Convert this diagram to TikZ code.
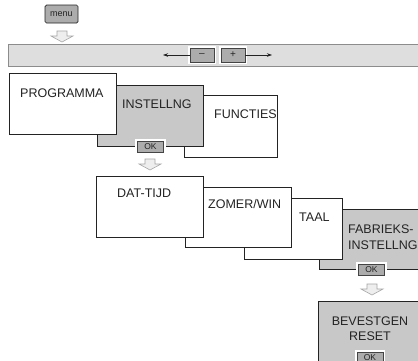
\documentclass[tikz,border=0pt]{standalone}
\usepackage{fontspec}
\setmainfont{Liberation Sans}
\usetikzlibrary{arrows.meta}
\definecolor{boxgray}{RGB}{200,200,200}
\definecolor{bargray}{RGB}{222,222,222}
\definecolor{btngray}{RGB}{172,172,172}
\definecolor{bargrayline}{RGB}{140,140,140}
\definecolor{edgec}{RGB}{35,35,35}
\definecolor{arrfill}{RGB}{238,238,238}
\definecolor{arrline}{RGB}{165,165,165}
\newcommand\DownArr[2]{%
  \draw[hollowarr] (#1-5,#2) -- (#1+5,#2) -- (#1+5,#2+5) -- (#1+11,#2+5) -- (#1,#2+11) -- (#1-11,#2+5) -- (#1-5,#2+5) -- cycle;}
\begin{document}
\begin{tikzpicture}[x=1pt,y=-1pt,
  card/.style={draw=edgec, line width=0.8pt, fill=white, anchor=north west, inner sep=0pt},
  graycard/.style={card, fill=boxgray},
  lbl/.style={anchor=base west, inner sep=0pt, text=edgec, font=\fontsize{12.5}{14}\selectfont},
  okbtn/.style={preaction={draw=white, line width=4.5pt}, draw=edgec!85, fill=btngray, line width=0.6pt,
    minimum width=26pt, minimum height=11pt, inner sep=0pt, text=edgec, font=\fontsize{8.5}{9}\selectfont},
  pmbtn/.style={okbtn, minimum width=24pt, minimum height=14pt, font=\fontsize{10}{10}\selectfont},
  hollowarr/.style={draw=arrline, fill=arrfill, line width=0.6pt, line join=miter},
  bararr/.style={draw=edgec, line width=0.6pt, -{Stealth[length=5pt,width=3.5pt]}}
]
\useasboundingbox (0,0) rectangle (418,360);
\clip (0,0) rectangle (418,360);
\fill[white] (0,0) rectangle (418,360);

% menu button
\node[draw=edgec, fill=btngray, rounded corners=1.5pt, line width=0.7pt, minimum width=33pt, minimum height=18pt,
  inner sep=0pt, text=edgec, font=\fontsize{9}{9}\selectfont] (menu) at (61.5,14) {menu};
\DownArr{62}{31}

% bar
\node[draw=bargrayline, fill=bargray, line width=0.8pt, anchor=north west, minimum width=430pt, minimum height=22pt, inner sep=0pt] (bar) at (8,44) {};
\node[pmbtn] (minus) at (202,55) {--};
\node[pmbtn] (plus) at (233,55) {+};
\coordinate (lend) at (163,55);
\coordinate (rend) at (272,55);
\draw[bararr] (minus.west) -- (lend);
\draw[bararr] (plus.east) -- (rend);

% first row
\node[card, minimum width=93pt, minimum height=62pt] (func) at (184,95) {};
\node[graycard, minimum width=106pt, minimum height=61pt] (inst) at (97,85) {};
\node[card, minimum width=107pt, minimum height=61pt] (prog) at (9,73) {};
\node[lbl] (progt) at (20,97) {PROGRAMMA};
\node[lbl] (instt) at (122,108) {INSTELLNG};
\node[lbl] (funct) at (214,118) {FUNCTIES};
\node[okbtn] (ok1) at (150.5,146.5) {OK};
\DownArr{150}{159}

% second row
\node[graycard, minimum width=110pt, minimum height=60pt] (fab) at (319,209) {};
\node[card, minimum width=98pt, minimum height=61pt] (taal) at (244,198) {};
\node[card, minimum width=106pt, minimum height=60pt] (zomer) at (185,187) {};
\node[card, minimum width=107pt, minimum height=61pt] (dat) at (96,176) {};
\node[lbl] (datt) at (117,197) {DAT-TIJD};
\node[lbl] (zomert) at (208,208) {ZOMER/WIN};
\node[lbl] (taalt) at (299,221) {TAAL};
\node[lbl] (fabt1) at (348,233) {FABRIEKS-};
\node[lbl] (fabt2) at (348,249) {INSTELLNG};
\node[okbtn] (ok2) at (371.5,270) {OK};
\DownArr{372}{284}

% third
\node[graycard, minimum width=110pt, minimum height=70pt] (bev) at (318,301) {};
\node[lbl, anchor=base] (bevt1) at (370,325) {BEVESTGEN};
\node[lbl, anchor=base] (bevt2) at (370,340) {RESET};
\node[okbtn] (ok3) at (370,357.5) {OK};
\end{tikzpicture}
\end{document}
